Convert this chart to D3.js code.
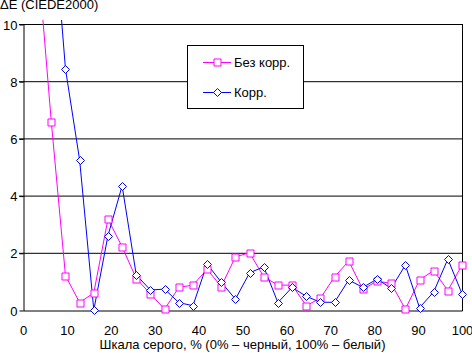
<!DOCTYPE html>
<html>
<head>
<meta charset="utf-8">
<script src="https://cdn.jsdelivr.net/npm/d3@7"></script>
<style>
  body { margin: 0; background: #fff; }
  svg { display: block; font-family: "Liberation Sans", Arial, sans-serif; }
  text { fill: #000; }
</style>
</head>
<body>
<div id="chart"></div>
<script>
// DATA: grey level steps (32 points, 0..100%), dE values
var steps = d3.range(1, 32).map(function(i) { return i * 100 / 31; });
var noCorr = [12.6, 6.57, 1.2, 0.26, 0.6, 3.18, 2.21, 1.1, 0.56, 0.03, 0.79, 0.87, 1.42, 0.82, 1.86, 2.0, 1.16, 0.87, 0.87, 0.15, 0.41, 1.16, 1.71, 0.72, 1.01, 0.93, 0.03, 1.05, 1.38, 0.68, 1.57];
var corr   = [25, 14.6, 8.43, 5.24, 0.0, 2.6, 4.34, 1.22, 0.7, 0.73, 0.26, 0.15, 1.61, 0.97, 0.38, 1.30, 1.51, 0.26, 0.79, 0.48, 0.27, 0.27, 1.05, 0.79, 1.08, 0.76, 1.57, 0.08, 0.63, 1.78, 0.57];
var seriesNames = ["Без корр.", "Корр."];
var xTicks = [0, 10, 20, 30, 40, 50, 60, 70, 80, 90, 100];
var yTicks = [0, 2, 4, 6, 8, 10];

(function() {
  var W = 472, H = 353;
  var m = {left: 23, right: 462, top: 24, bottom: 310};

  var svg = d3.select("#chart").append("svg")
      .attr("width", W).attr("height", H);

  var x = d3.scaleLinear().domain([0, 100]).range([m.left, m.right]);
  var y = d3.scaleLinear().domain([0, 10]).range([m.bottom, m.top]);

  // clip for the series (Excel lets lines run a few px over the top)
  svg.append("clipPath").attr("id", "plotclip")
    .append("rect").attr("x", m.left).attr("y", m.top - 4)
    .attr("width", m.right - m.left + 6).attr("height", m.bottom - m.top + 10);

  // gridlines
  svg.append("g").selectAll("line")
    .data(yTicks.filter(function(d) { return d > 0; }))
    .enter().append("line")
    .attr("x1", m.left - 4).attr("x2", m.right)
    .attr("y1", function(d) { return y(d) + 0.5; })
    .attr("y2", function(d) { return y(d) + 0.5; })
    .attr("stroke", "#000").attr("stroke-width", 1);

  // right border
  svg.append("line")
    .attr("x1", m.right + 0.5).attr("x2", m.right + 0.5)
    .attr("y1", m.top).attr("y2", m.bottom + 1)
    .attr("stroke", "#000");

  // y axis
  var yAxis = svg.append("g")
    .attr("transform", "translate(" + (m.left + 0.5) + ",0.5)")
    .call(d3.axisLeft(y).tickValues(yTicks).tickSize(4).tickSizeOuter(0));
  yAxis.select(".domain").attr("stroke", "#000");
  yAxis.selectAll(".tick line").attr("stroke", "#000");
  yAxis.selectAll("text").attr("font-size", 13).attr("font-family", "Liberation Sans, Arial, sans-serif")
    .attr("x", -6).attr("dy", "0.36em");

  // x axis
  var xAxis = svg.append("g")
    .attr("transform", "translate(0," + (m.bottom + 0.5) + ")")
    .call(d3.axisBottom(x).tickValues(xTicks).tickSize(0).tickSizeOuter(0));
  xAxis.select(".domain").attr("stroke", "#000");
  xAxis.selectAll("text").attr("font-size", 13).attr("font-family", "Liberation Sans, Arial, sans-serif")
    .attr("y", 0).attr("dy", "1.85em");

  // series
  var line = d3.line()
    .x(function(d, i) { return x(steps[i]); })
    .y(function(d) { return y(d); });

  var plot = svg.append("g").attr("clip-path", "url(#plotclip)");

  plot.append("path").datum(noCorr)
    .attr("d", line).attr("fill", "none")
    .attr("stroke", "#ff00ff").attr("stroke-width", 1);
  plot.append("path").datum(corr)
    .attr("d", line).attr("fill", "none")
    .attr("stroke", "#0000ff").attr("stroke-width", 1);

  var square = d3.symbol().type(d3.symbolSquare).size(49);
  var diamond = "M0,-4L4,0L0,4L-4,0Z";

  function visible(arr) {
    return d3.range(arr.length).filter(function(i) { return arr[i] <= 10; });
  }

  plot.selectAll(".sq").data(visible(noCorr)).enter()
    .append("path").attr("class", "sq")
    .attr("d", square)
    .attr("transform", function(i) { return "translate(" + (Math.round(x(steps[i])) + 0.5) + "," + (Math.round(y(noCorr[i])) + 0.5) + ")"; })
    .attr("fill", "#fff").attr("stroke", "#ff00ff");

  plot.selectAll(".dm").data(visible(corr)).enter()
    .append("path").attr("class", "dm")
    .attr("d", diamond)
    .attr("transform", function(i) { return "translate(" + (Math.round(x(steps[i])) + 0.5) + "," + (Math.round(y(corr[i])) + 0.5) + ")"; })
    .attr("fill", "#fff").attr("stroke", "#0000ff");

  // titles
  svg.append("text").attr("x", 0).attr("y", 9)
    .attr("font-size", 13).text("ΔE (CIEDE2000)");
  svg.append("text").attr("x", (m.left + m.right) / 2).attr("y", 349)
    .attr("text-anchor", "middle").attr("font-size", 13)
    .text("Шкала серого, % (0% – черный, 100% – белый)");

  // legend
  var lg = svg.append("g");
  lg.append("rect").attr("x", 187.5).attr("y", 45.5).attr("width", 116).attr("height", 63)
    .attr("fill", "#fff").attr("stroke", "#000");
  var ly = [62, 92];
  var lcol = ["#ff00ff", "#0000ff"];
  seriesNames.forEach(function(name, k) {
    lg.append("line").attr("x1", 203).attr("x2", 231)
      .attr("y1", ly[k] + 0.5).attr("y2", ly[k] + 0.5)
      .attr("stroke", lcol[k]);
    lg.append("path")
      .attr("d", k === 0 ? square : diamond)
      .attr("transform", "translate(217.5," + (ly[k] + 0.5) + ")")
      .attr("fill", "#fff").attr("stroke", lcol[k]);
    lg.append("text").attr("x", 234).attr("y", ly[k] + 5)
      .attr("font-size", 13).text(name);
  });
})();
</script>
</body>
</html>
